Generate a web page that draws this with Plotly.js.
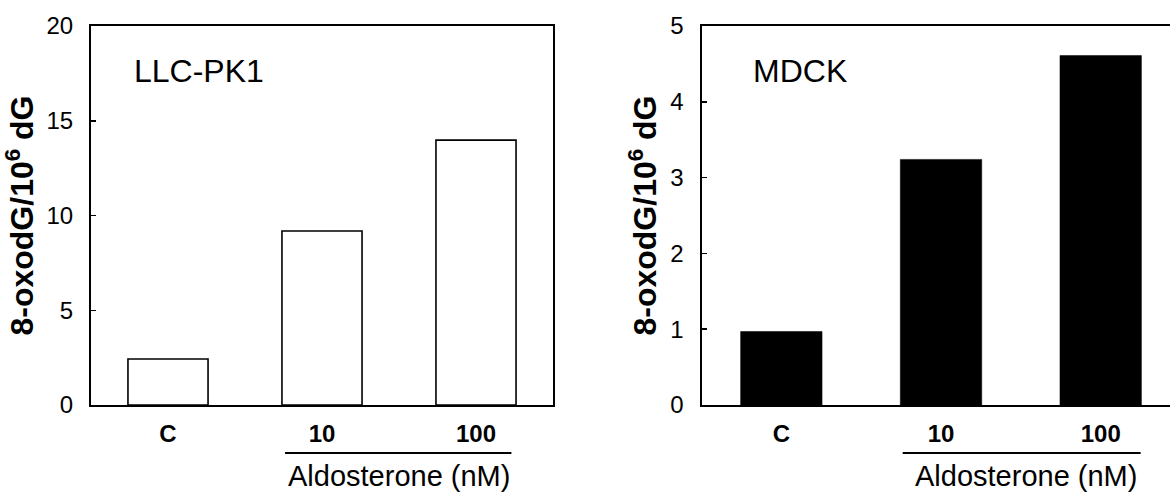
<!DOCTYPE html>
<html>
<head>
<meta charset="utf-8">
<script src="https://cdn.plot.ly/plotly-3.0.1.min.js"></script>
<style>html,body{margin:0;padding:0;background:#fff;}#chart{width:1170px;height:493px;}</style>
</head>
<body>
<div id="chart"></div>
<script>
// Data
const categories = ["C", "10", "100"];
const llcpk1Values = [2.43, 9.18, 13.98];
const mdckValues = [0.97, 3.24, 4.61];
const yTitle = "8-oxodG/10<sup>6</sup> dG";
const panelLabels = ["LLC-PK1", "MDCK"];
const groupLabel = "Aldosterone (nM)";

const FONT = "Liberation Sans, Arial, sans-serif";

const traces = [
  {
    type: "bar", x: categories, y: llcpk1Values, xaxis: "x", yaxis: "y",
    width: 0.52,
    marker: {color: "#ffffff", line: {color: "#000000", width: 1.6}},
    hoverinfo: "x+y"
  },
  {
    type: "bar", x: categories, y: mdckValues, xaxis: "x2", yaxis: "y2",
    width: 0.51,
    marker: {color: "#000000", line: {color: "#000000", width: 0.5}},
    hoverinfo: "x+y"
  }
];

const xCommon = {
  type: "category", showline: true, linecolor: "#000", linewidth: 2,
  ticks: "", showgrid: false, zeroline: false,
  tickfont: {family: FONT, size: 24, color: "#000", weight: "bold"},
  ticklabelstandoff: 6, fixedrange: true
};
const yCommon = {
  showline: true, linecolor: "#000", linewidth: 2,
  ticks: "inside", ticklen: 5, tickwidth: 1.5, tickcolor: "#000",
  showgrid: false, zeroline: false,
  tickfont: {family: FONT, size: 24, color: "#000"},
  ticklabelstandoff: 11, fixedrange: true
};

const layout = {
  width: 1170, height: 493,
  margin: {l: 0, r: 0, t: 26, b: 88},
  paper_bgcolor: "#fff", plot_bgcolor: "#fff",
  showlegend: false,
  font: {family: FONT, color: "#000"},
  xaxis: Object.assign({}, xCommon, {domain: [91/1170, 553/1170], range: [-0.5, 2.5], mirror: true, anchor: "y"}),
  xaxis2: Object.assign({}, xCommon, {domain: [701.5/1170, 1], range: [-0.5, 2.434], mirror: true, anchor: "y2"}),
  yaxis: Object.assign({}, yCommon, {range: [0, 20], dtick: 5, mirror: true, anchor: "x",
    title: {text: yTitle, font: {family: FONT, size: 32, weight: "bold", color: "#000"}, standoff: 6}}),
  yaxis2: Object.assign({}, yCommon, {range: [0, 5], dtick: 1, mirror: false, anchor: "x2",
    title: {text: yTitle, font: {family: FONT, size: 32, weight: "bold", color: "#000"}, standoff: 4}}),
  annotations: [
    {xref: "x domain", yref: "y domain", x: 0.0887, y: 0.88, xanchor: "left", yanchor: "middle",
     text: panelLabels[0], showarrow: false, font: {family: FONT, size: 32, color: "#000"}},
    {xref: "x2 domain", yref: "y2 domain", x: 0.1057, y: 0.88, xanchor: "left", yanchor: "middle",
     text: panelLabels[1], showarrow: false, font: {family: FONT, size: 32, color: "#000"}},
    {xref: "x", yref: "paper", x: 1.5, y: -0.187, xanchor: "center", yanchor: "middle",
     text: groupLabel, showarrow: false, font: {family: FONT, size: 29, color: "#000"}},
    {xref: "x2", yref: "paper", x: 1.53, y: -0.187, xanchor: "center", yanchor: "middle",
     text: groupLabel, showarrow: false, font: {family: FONT, size: 29, color: "#000"}}
  ],
  shapes: [
    {type: "line", xref: "x", yref: "paper", x0: 0.76, x1: 2.23, y0: -0.1266, y1: -0.1266,
     line: {color: "#000", width: 2}},
    {type: "line", xref: "x2", yref: "paper", x0: 0.76, x1: 2.25, y0: -0.1266, y1: -0.1266,
     line: {color: "#000", width: 2}}
  ]
};

Plotly.newPlot("chart", traces, layout, {displayModeBar: false, staticPlot: true});
</script>
</body>
</html>
